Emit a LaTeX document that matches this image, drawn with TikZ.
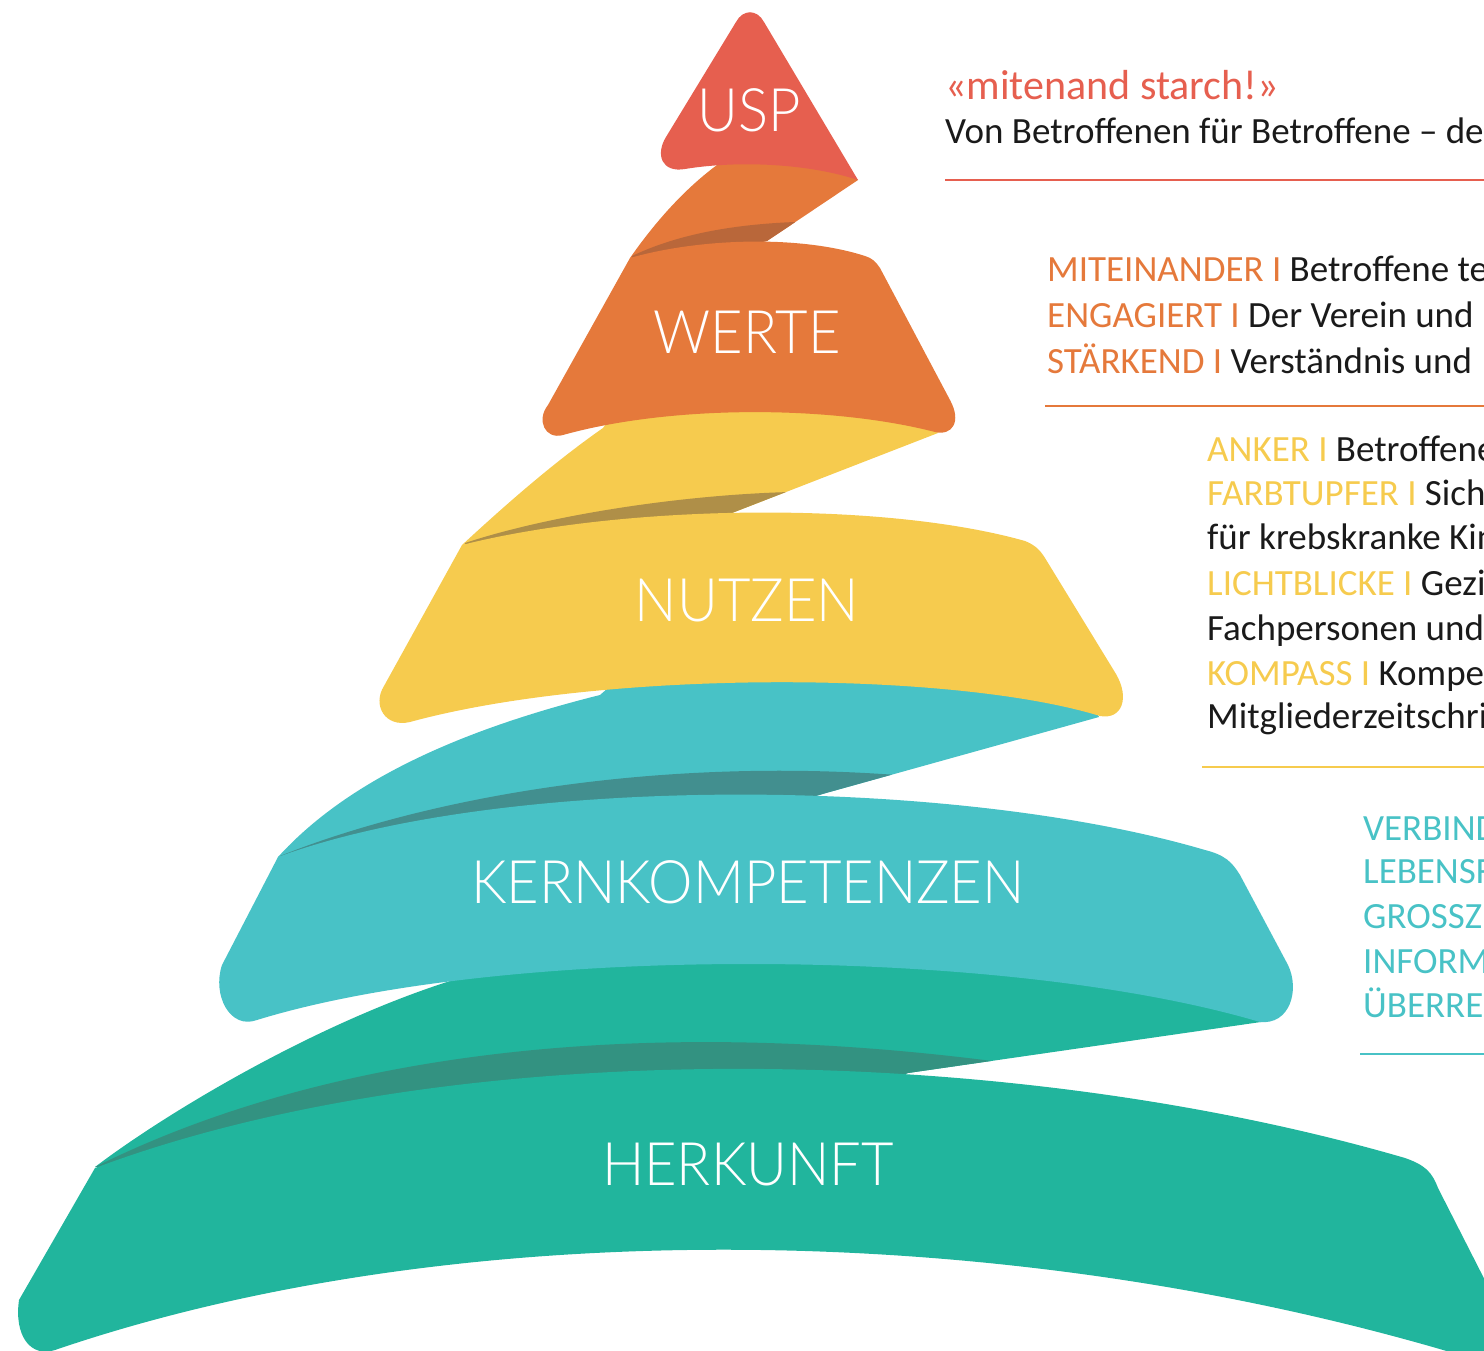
\documentclass[tikz,border=0pt]{standalone}
\usepackage{fontspec}
\setmainfont{Carlito}
\IfFontExistsTF{Lato Light}{\newfontfamily\layerfont{Lato Light}[FakeStretch=0.935]}{\newfontfamily\layerfont{Carlito}[FakeStretch=0.935]}
\usepackage{tikz}

\definecolor{uspred}{HTML}{E65F4F}
\definecolor{werteor}{HTML}{E5793B}
\definecolor{werteshd}{HTML}{B9673A}
\definecolor{nutzyel}{HTML}{F6CB4E}
\definecolor{nutzshd}{HTML}{AF8F48}
\definecolor{kernteal}{HTML}{48C2C6}
\definecolor{kernshd}{HTML}{428F8F}
\definecolor{herkgrn}{HTML}{21B59D}
\definecolor{herkshd}{HTML}{339281}
\definecolor{txtgray}{HTML}{1A1A1A}

\newcommand{\keyw}[2]{\textcolor{#1}{#2 I}}

\begin{document}
\begin{tikzpicture}[x=1pt,y=-1pt,
  layer/.style={text=white,font=\layerfont\fontsize{60}{60}\selectfont,anchor=base,inner sep=0pt},
  rowtext/.style={anchor=base west,inner sep=0pt,text=txtgray,font=\fontsize{37}{44}\selectfont},
  rulebar/.style={line width=2.5pt}]
\useasboundingbox (0,0) rectangle (1484,1351);
\clip (0,0) rectangle (1484,1351);

% HERKUNFT
\begin{scope}
  \clip (95,1167) .. controls (170,1110) and (330,1015) .. (470,975) -- (520,940) -- (1240,975)
    -- (1261,1022) -- (908,1073) -- (700,1150) -- cycle;
  \fill[herkgrn] (0,900) rectangle (1484,1250);
  \fill[herkshd] (95,1167) .. controls (300,1065) and (600,1010) .. (1000,1062) -- (1000,1200) -- (95,1200) -- cycle;
\end{scope}
\fill[herkgrn] (95,1168) .. controls (450,1035) and (1000,1040) .. (1405,1158)
  .. controls (1425,1165) and (1432,1172) .. (1438,1188) -- (1495,1300)
  .. controls (1505,1330) and (1495,1365) .. (1470,1358)
  .. controls (1000,1215) and (450,1215) .. (55,1350)
  .. controls (30,1358) and (14,1335) .. (19,1300) -- cycle;
\node[layer] (herkunft) at (748,1185) {HERKUNFT};

% KERNKOMPETENZEN
\begin{scope}
  \clip (278,857) .. controls (330,800) and (420,740) .. (600,695) -- (640,660) -- (1080,680)
    -- (1099,717) -- (826,793) -- (700,830) -- cycle;
  \fill[kernteal] (0,600) rectangle (1484,900);
  \fill[kernshd] (280,856) .. controls (420,800) and (650,755) .. (910,776) -- (910,900) -- (280,900) -- cycle;
\end{scope}
\fill[kernteal] (278,857) .. controls (500,775) and (950,775) .. (1205,850)
  .. controls (1225,855) and (1232,862) .. (1240,875) -- (1288,965)
  .. controls (1300,990) and (1290,1025) .. (1260,1022)
  .. controls (1000,945) and (500,945) .. (257,1020)
  .. controls (230,1030) and (212,995) .. (222,965) -- cycle;
\node[layer] (kern) at (748,903) {KERNKOMPETENZEN};

% NUTZEN
\begin{scope}
  \clip (462,545) .. controls (500,510) and (550,465) .. (603,428) -- (620,405) -- (925,410)
    -- (938,433) -- (732,513) -- (650,535) -- cycle;
  \fill[nutzyel] (0,380) rectangle (1484,600);
  \fill[nutzshd] (465,543) .. controls (550,515) and (680,495) .. (790,492) -- (790,600) -- (465,600) -- cycle;
\end{scope}
\fill[nutzyel] (462,545) .. controls (620,505) and (880,500) .. (1025,541)
  .. controls (1035,545) and (1040,550) .. (1045,558) -- (1116,674)
  .. controls (1130,698) and (1122,720) .. (1100,716)
  .. controls (950,670) and (600,670) .. (410,722)
  .. controls (385,728) and (372,705) .. (384,686) -- cycle;
\node[layer] (nutzen) at (747,621) {NUTZEN};

% WERTE
\begin{scope}
  \clip (630,258) .. controls (660,215) and (690,185) .. (717,165) -- (735,150) -- (830,158)
    -- (858,180) -- (767,241) -- (700,255) -- cycle;
  \fill[werteor] (0,120) rectangle (1484,300);
  \fill[werteshd] (632,256) .. controls (670,238) and (720,225) .. (795,222) -- (795,300) -- (632,300) -- cycle;
\end{scope}
\fill[werteor] (630,258) .. controls (700,238) and (800,235) .. (865,256)
  .. controls (872,258) and (876,262) .. (880,268) -- (950,400)
  .. controls (962,422) and (952,436) .. (935,432)
  .. controls (830,405) and (670,405) .. (563,435)
  .. controls (545,440) and (536,420) .. (548,405) -- cycle;
\node[layer] (werte) at (747,353) {WERTE};

% USP
\fill[uspred] (858,180) -- (764,22) .. controls (757,9) and (743,9) .. (736,22) -- (666,137)
  .. controls (655,155) and (662,173) .. (685,169)
  .. controls (740,160) and (810,164) .. (858,180) -- cycle;
\node[layer] (usp) at (749,132) {USP};

% Texte rechts
\node[rowtext,text=uspred,font=\fontsize{42}{48}\selectfont] (uspA) at (945,100) {«mitenand starch!»};
\node[rowtext] (uspB) at (945,144) {Von Betroffenen für Betroffene – der};
\draw[rulebar,uspred] (945,180) -- (1484,180);

\node[rowtext] (werteA) at (1047,282) {\keyw{werteor}{MITEINANDER} Betroffene te};
\node[rowtext] (werteB) at (1047,327) {\keyw{werteor}{ENGAGIERT} Der Verein und};
\node[rowtext] (werteC) at (1047,373) {\keyw{werteor}{STÄRKEND} Verständnis und};
\draw[rulebar,werteor] (1045,406) -- (1484,406);

\node[rowtext] (nutzenA) at (1207,461) {\keyw{nutzyel}{ANKER} Betroffene};
\node[rowtext] (nutzenB) at (1207,505) {\keyw{nutzyel}{FARBTUPFER} Sich};
\node[rowtext] (nutzenC) at (1207,549) {für krebskranke Kin};
\node[rowtext] (nutzenD) at (1207,595) {\keyw{nutzyel}{LICHTBLICKE} Gezi};
\node[rowtext] (nutzenE) at (1207,640) {Fachpersonen und};
\node[rowtext] (nutzenF) at (1207,685) {\keyw{nutzyel}{KOMPASS} Kompet};
\node[rowtext] (nutzenG) at (1207,728) {Mitgliederzeitschri};
\draw[rulebar,nutzyel] (1202,767) -- (1484,767);

\node[rowtext,text=kernteal] (kernA) at (1363,840) {VERBIND};
\node[rowtext,text=kernteal] (kernB) at (1363,883) {LEBENSF};
\node[rowtext,text=kernteal] (kernC) at (1363,928) {GROSSZU};
\node[rowtext,text=kernteal] (kernD) at (1363,973) {INFORM};
\node[rowtext,text=kernteal] (kernE) at (1363,1017) {ÜBERREG};
\draw[rulebar,kernteal] (1360,1054) -- (1484,1054);
\end{tikzpicture}
\end{document}
